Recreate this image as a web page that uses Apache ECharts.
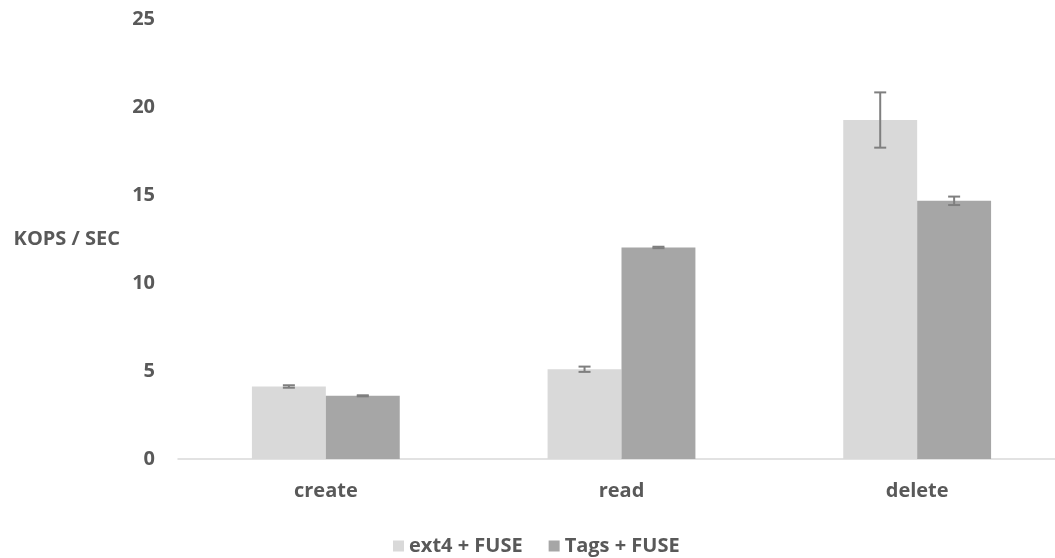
<!DOCTYPE html>
<html>
<head>
<meta charset="utf-8">
<script src="https://cdn.jsdelivr.net/npm/echarts@6/dist/echarts.min.js"></script>
<style>
  html, body { margin: 0; padding: 0; background: #fff; }
  #chart { width: 1055px; height: 558px; }
</style>
</head>
<body>
<div id="chart"></div>
<script>
var categories = ['create', 'read', 'delete'];
var ext4Values = [4.12, 5.10, 19.26];
var ext4Err = [0.07, 0.15, 1.57];
var tagsValues = [3.59, 12.02, 14.67];
var tagsErr = [0.03, 0.04, 0.24];
var seriesNames = ['ext4 + FUSE', 'Tags + FUSE'];

var textColor = '#595959';
var fontFam = '"Open Sans", "Liberation Sans", sans-serif';

// error bar drawn on top of a bar; offset = which bar in the group (-1 left, +1 right)
function errorSeries(vals, errs, offset) {
  var data = vals.map(function (v, i) { return [i, v - errs[i], v + errs[i]]; });
  return {
    type: 'custom',
    z: 10,
    silent: true,
    renderItem: function (params, api) {
      var lo = api.coord([api.value(0), api.value(1)]);
      var hi = api.coord([api.value(0), api.value(2)]);
      var band = api.size([1, 0])[0];
      var x = lo[0] + offset * band * 0.125;
      var cap = 6;
      var style = { stroke: '#7f7f7f', lineWidth: 2 };
      return {
        type: 'group',
        children: [
          { type: 'line', shape: { x1: x, y1: lo[1], x2: x, y2: hi[1] }, style: style },
          { type: 'line', shape: { x1: x - cap, y1: lo[1], x2: x + cap, y2: lo[1] }, style: style },
          { type: 'line', shape: { x1: x - cap, y1: hi[1], x2: x + cap, y2: hi[1] }, style: style }
        ]
      };
    },
    encode: { x: 0, y: [1, 2] },
    data: data
  };
}

var myChart = echarts.init(document.getElementById('chart'));
var options = {
  animation: false,
  textStyle: { fontFamily: fontFam },
  // plot area runs a little past the right edge (the original is cropped there)
  grid: { left: 178, width: 887, top: 19, bottom: 99, outerBoundsMode: 'none', containLabel: false },
  legend: {
    data: seriesNames,
    left: 388,
    top: 531,
    itemWidth: 11,
    itemHeight: 11,
    itemGap: 26,
    icon: 'rect',
    textStyle: { color: textColor, fontSize: 20, fontWeight: 'bold', fontFamily: fontFam }
  },
  xAxis: {
    type: 'category',
    data: categories,
    axisLine: { lineStyle: { color: '#d9d9d9', width: 1.5 } },
    axisTick: { show: false },
    axisLabel: { color: textColor, fontSize: 20, fontWeight: 'bold', margin: 22, fontFamily: fontFam }
  },
  yAxis: {
    type: 'value',
    min: 0,
    max: 25,
    interval: 5,
    name: 'KOPS / SEC',
    nameLocation: 'middle',
    nameRotate: 0,
    nameGap: 58,
    nameTextStyle: { color: textColor, fontSize: 20, fontWeight: 'bold', align: 'right', fontFamily: fontFam },
    axisLine: { show: false },
    axisTick: { show: false },
    splitLine: { show: false },
    axisLabel: { color: textColor, fontSize: 20, fontWeight: 'bold', margin: 23, fontFamily: fontFam }
  },
  series: [
    {
      name: seriesNames[0],
      type: 'bar',
      data: ext4Values,
      barWidth: '25%',
      barGap: '0%',
      itemStyle: { color: '#d9d9d9' }
    },
    {
      name: seriesNames[1],
      type: 'bar',
      data: tagsValues,
      barWidth: '25%',
      barGap: '0%',
      itemStyle: { color: '#a6a6a6' }
    },
    errorSeries(ext4Values, ext4Err, -1),
    errorSeries(tagsValues, tagsErr, 1)
  ]
};
myChart.setOption(options);
</script>
</body>
</html>
